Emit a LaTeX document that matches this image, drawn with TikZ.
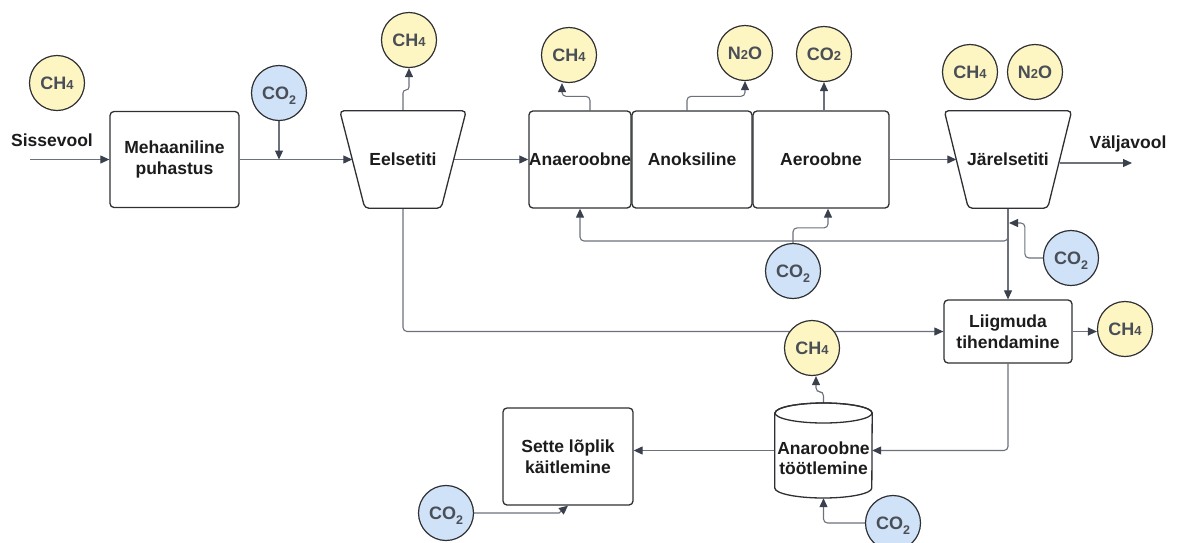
\documentclass[tikz,border=0pt]{standalone}
\usepackage{fontspec}
\setmainfont{Liberation Sans}
\usetikzlibrary{arrows.meta}
\definecolor{yel}{HTML}{FDF6C3}
\definecolor{blu}{HTML}{CFE2F8}
\definecolor{edgec}{HTML}{2E3033}
\definecolor{linec}{HTML}{6C717B}
\definecolor{tipc}{HTML}{3A404C}
\definecolor{gastext}{HTML}{4A4E57}
\definecolor{boxtext}{HTML}{1C1C1C}
\pgfdeclarelayer{lines}
\pgfdeclarelayer{shapes}
\pgfsetlayers{lines,shapes,main}
\tikzset{
 procbox/.style={draw=edgec, line width=1.3pt, rounded corners=4pt, fill=white, align=center, text=boxtext, font=\bfseries\fontsize{17.5}{20.5}\selectfont, inner sep=0pt},
 shapetext/.style={align=center, text=boxtext, font=\bfseries\fontsize{17.5}{20.5}\selectfont, inner sep=0pt},
 gas/.style={circle, draw=edgec, line width=1.2pt, minimum size=55pt, inner sep=0pt, text=gastext, font=\bfseries\fontsize{18}{18}\selectfont},
 gasy/.style={gas, fill=yel},
 gasb/.style={gas, fill=blu},
 flow/.style={draw=linec, line width=1.1pt, rounded corners=4pt, -{Triangle[length=9pt,width=8pt,color=tipc]}},
 lbl/.style={font=\bfseries\fontsize{17.5}{21}\selectfont, text=boxtext, inner sep=0pt},
 shp/.style={draw=edgec, line width=1.3pt, rounded corners=4pt, fill=white},
}
\newcommand{\smalldig}[1]{{\fontsize{13}{13}\selectfont #1}}
\newcommand{\subdig}[1]{\raisebox{-0.3em}[0pt][0pt]{\fontsize{12.5}{12.5}\selectfont #1}}
\begin{document}
\begin{tikzpicture}[x=1pt,y=-1pt]
\useasboundingbox (0,0) rectangle (1179,542);
% nodes
\node[gasy] (g1) at (57,83) {CH\smalldig{4}};
\node[lbl, anchor=base] (sis) at (52,146) {Sissevool};
\coordinate (in) at (30,159.5);
\node[procbox, minimum width=129pt, minimum height=96pt] (mech) at (174.5,159.5) {Mehaaniline\\puhastus};
\node[gasb] (g2) at (279,93) {CO\subdig{2}};
\node[shapetext, minimum width=101pt, minimum height=97pt] (eel) at (403,159.5) {Eelsetiti};
\node[gasy] (g3) at (409,40) {CH\smalldig{4}};
\node[procbox, minimum width=102pt, minimum height=97pt] (anaer) at (580,159.5) {Anaeroobne};
\node[procbox, minimum width=120pt, minimum height=97pt] (anoks) at (692,159.5) {Anoksiline};
\node[procbox, minimum width=136pt, minimum height=97pt] (aero) at (821,159.5) {Aeroobne};
\node[gasy] (g4) at (569,55) {CH\smalldig{4}};
\node[gasy] (g5) at (745,53) {N\smalldig{2}O};
\node[gasy] (g6) at (824,54) {CO\smalldig{2}};
\node[shapetext, minimum width=103pt, minimum height=97pt] (jar) at (1008,159.5) {Järelsetiti};
\node[gasy] (g13) at (970,72) {CH\smalldig{4}};
\node[gasy] (g14) at (1035,72) {N\smalldig{2}O};
\node[lbl, anchor=base] (val) at (1128,148) {Väljavool};
\coordinate (out) at (1132,163);
\node[procbox, minimum width=128pt, minimum height=63pt] (liig) at (1008,331.5) {Liigmuda\\tihendamine};
\node[gasy] (g9) at (1125,329) {CH\smalldig{4}};
\node[gasb] (g7) at (793,271) {CO\subdig{2}};
\node[gasb] (g8) at (1071,258) {CO\subdig{2}};
\node[gasy] (g10) at (812,348) {CH\smalldig{4}};
\node[minimum width=97pt, minimum height=95pt, inner sep=0pt] (cyl) at (823.5,450.5) {};
\node[shapetext] (cyltext) at (823.5,458) {Anaroobne\\töötlemine};
\node[procbox, minimum width=130pt, minimum height=97pt] (sette) at (568,456.5) {Sette lõplik\\käitlemine};
\node[gasb] (g11) at (893,523) {CO\subdig{2}};
\node[gasb] (g12) at (446,513) {CO\subdig{2}};
\coordinate (br) at (1008,230);
\coordinate (rr) at (580,241);
\coordinate (jin) at (1009,223);
\coordinate (sk) at (559,513);
% shapes
\begin{pgfonlayer}{shapes}
\draw[shp] ([xshift=-12.5pt]eel.north west) -- ([xshift=12.5pt]eel.north east) -- ([xshift=-12.5pt]eel.south east) -- ([xshift=12.5pt]eel.south west) -- cycle;
\draw[shp] ([xshift=-12pt]jar.north west) -- ([xshift=12pt]jar.north east) -- ([xshift=-12pt]jar.south east) -- ([xshift=12pt]jar.south west) -- cycle;
\filldraw[shp, sharp corners] (cyl.west |- 0,413) -- (cyl.west |- 0,488) arc[start angle=180, end angle=360, x radius=48.5pt, y radius=10pt] -- (cyl.east |- 0,413) arc[start angle=0, end angle=180, x radius=48.5pt, y radius=10pt] -- cycle;
\draw[shp, sharp corners, fill=none] (823.5,413) ellipse[x radius=48.5pt, y radius=10pt];
\end{pgfonlayer}
% connectors
\begin{pgfonlayer}{lines}
\draw[flow] (in) -- (mech.west);
\draw[flow] (mech.east) -- (eel.west);
\draw[flow] (g2.south) -- (g2.south |- mech.east);
\draw[flow, rounded corners=3pt] (eel.north) -- (403,90) -- (409,90) -- (g3.south);
\draw[flow] (eel.east) -- (anaer.west);
\draw[flow] ([xshift=10pt]anaer.north) -- ++(0,-14) -| ([xshift=-7pt]g4.south);
\draw[flow] ([xshift=-5pt]anoks.north) -- ++(0,-14) -| (g5.south);
\draw[flow] (g6.south |- aero.north) -- (g6.south);
\draw[flow] (aero.east) -- (jar.west);
\draw[flow] (jar.east |- out) -- (out);
\draw[flow] (jar.south) -- (liig.north);
\draw[flow] (br) |- (rr) -- (anaer.south);
\draw[flow] (g7.north) -- ++(0,-15) -| ([xshift=7pt]aero.south);
\draw[flow] (g8.west) -- ++(-18,0) |- (jin);
\draw[flow] (liig.east) -- (liig.east -| g9.west);
\draw[flow] (eel.south) |- (liig.west);
\draw[flow] (cyl.north) -- ++(0,-11) -| ([xshift=4pt]g10.south);
\draw[flow] (liig.south) |- (cyl.east);
\draw[flow] (cyl.west) -- (cyl.west -| sette.east);
\draw[flow] (g11.west) -| (cyl.south);
\draw[flow, sharp corners] (g12.east) -- (sk) -- (sette.south);
\end{pgfonlayer}
\end{tikzpicture}
\end{document}
